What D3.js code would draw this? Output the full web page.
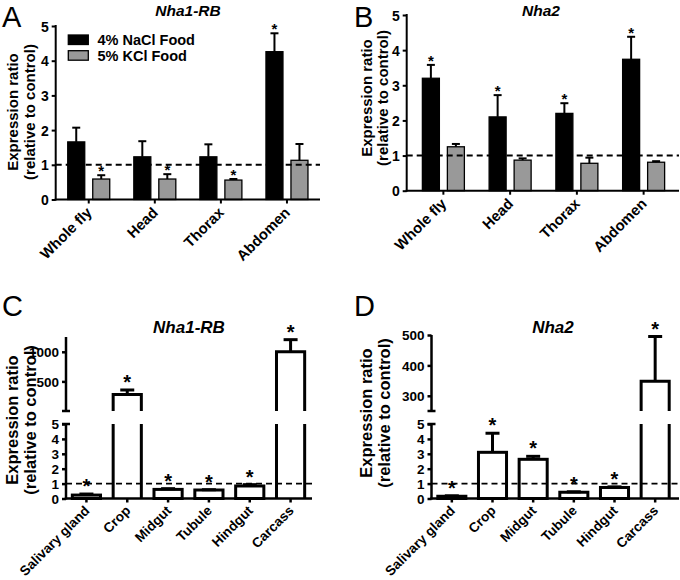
<!DOCTYPE html>
<html><head><meta charset="utf-8">
<script src="https://cdn.jsdelivr.net/npm/d3@7"></script>
<style>
body{margin:0;background:#fff}
svg{display:block}
text{font-family:"Liberation Sans",Arial,sans-serif}
</style>
</head><body><svg id="c" width="680" height="580"></svg>
<script>
// ---------- data ----------
const regions = ["Whole fly","Head","Thorax","Abdomen"];
const diets = ["4% NaCl Food","5% KCl Food"];
const dietFill = ["#000000","#999999"];
const aNaCl = [1.66,1.23,1.23,4.26];
const aNaClSem = [0.41,0.45,0.36,0.53];
const aKCl = [0.59,0.59,0.56,1.13];
const aKClSem = [0.11,0.14,0.03,0.47];
const aNaClSig = [false,false,false,true];
const aKClSig = [true,true,true,false];
const bNaCl = [3.2,2.1,2.2,3.74];
const bNaClSem = [0.38,0.62,0.29,0.64];
const bKCl = [1.25,0.87,0.78,0.81];
const bKClSem = [0.08,0.05,0.16,0.03];
const bNaClSig = [true,true,true,true];
const bKClSig = [false,false,false,false];
const tissues = ["Salivary gland","Crop","Midgut","Tubule","Hindgut","Carcass"];
const cVals = [0.23,280,0.61,0.57,0.84,1000];
const cSem = [0.07,75,0.05,0.02,0.09,205];
const cSig = [true,true,true,true,true,true];
const dVals = [0.15,3.1,2.63,0.42,0.74,348];
const dSem = [0.03,1.28,0.2,0.03,0.04,147];
const dSig = [true,true,true,true,true,true];
const lowTicks = [0,1,2,3,4,5];
const cHighDomain = [0,1250];
const cHighTicks = [500,1000];
const dHighDomain = [250,500];
const dHighTicks = [300,400,500];

const svg = d3.select("#c");

function styleAxis(sel, fs, sw){
  sel.selectAll("path.domain").remove();
  sel.selectAll(".tick line").attr("stroke","#000").attr("stroke-width",sw);
  sel.selectAll(".tick text").attr("fill","#000").style("font-size",fs+"px").style("font-weight","bold");
}

function yLabel(g, cx, cy, fs){
  const t = g.append("g").attr("transform",`translate(${cx},${cy}) rotate(-90)`);
  t.append("text").attr("text-anchor","middle").attr("y",0).style("font-size",fs+"px").style("font-weight","bold").text("Expression ratio");
  t.append("text").attr("text-anchor","middle").attr("y",fs*1.12).style("font-size",fs+"px").style("font-weight","bold").text("(relative to control)");
}

// ---------- grouped panels (A, B) ----------
function grouped(o){
  const g = svg.append("g");
  const x = d3.scaleBand().domain(regions).range([o.x0, o.x1]);
  const bw = x.bandwidth();
  const xi = d3.scaleBand().domain(diets).range([bw/2-21, bw/2+21]).paddingInner(0.32);
  const y = d3.scaleLinear().domain([0,5]).range([o.yb, o.yt]);
  const series = [o.s1, o.s2];
  const sems = [o.e1, o.e2];
  const sigs = [o.g1, o.g2];

  diets.forEach((dname, si) => {
    regions.forEach((r, j) => {
      const v = series[si][j];
      g.append("rect")
        .attr("x", x(r)+xi(dname)).attr("width", xi.bandwidth())
        .attr("y", y(v)).attr("height", y(0)-y(v))
        .attr("fill", dietFill[si]).attr("stroke","#000").attr("stroke-width",1.3);
    });
  });
  diets.forEach((dname, si) => {
    regions.forEach((r, j) => {
      const v = series[si][j], e = sems[si][j];
      const cx = x(r)+xi(dname)+xi.bandwidth()/2;
      g.append("line").attr("x1",cx).attr("x2",cx).attr("y1",y(v)).attr("y2",y(v+e)).attr("stroke","#000").attr("stroke-width",2);
      g.append("line").attr("x1",cx-4).attr("x2",cx+4).attr("y1",y(v+e)).attr("y2",y(v+e)).attr("stroke","#000").attr("stroke-width",2);
      if (sigs[si][j]) g.append("text").attr("x",cx).attr("y",y(v+e)+1).attr("text-anchor","middle")
        .style("font-size","15px").style("font-weight","bold").text("*");
    });
  });
  g.append("line").attr("x1",o.ax).attr("x2",o.xEnd).attr("y1",y(1)).attr("y2",y(1))
    .attr("stroke","#000").attr("stroke-width",2).attr("stroke-dasharray","6,4");
  const ya = g.append("g").attr("transform",`translate(${o.ax},0)`)
    .call(d3.axisLeft(y).tickValues(lowTicks).tickSize(4).tickSizeOuter(0).tickPadding(3).tickFormat(d3.format("d")));
  styleAxis(ya, 14, 2);
  ya.selectAll(".tick text").attr("dy","0.36em");
  g.append("line").attr("x1",o.ax).attr("x2",o.ax).attr("y1",y(5)-1).attr("y2",y(0)+1).attr("stroke","#000").attr("stroke-width",2);
  const xa = g.append("g").attr("transform",`translate(0,${o.yb})`)
    .call(d3.axisBottom(x).tickSize(4).tickSizeOuter(0));
  styleAxis(xa, 14.8, 2);
  xa.selectAll(".tick text").attr("y",null).attr("dy",null).attr("text-anchor","end")
    .attr("transform","translate(4,14) rotate(-45)");
  g.append("line").attr("x1",o.ax-1).attr("x2",o.xEnd).attr("y1",o.yb).attr("y2",o.yb).attr("stroke","#000").attr("stroke-width",2);

  g.append("text").attr("x",o.tx).attr("y",o.ty).attr("text-anchor","middle")
    .style("font-size","15.5px").style("font-weight","bold").style("font-style","italic").text(o.title);
  g.append("text").attr("x",o.lx).attr("y",o.ly).style("font-size","29px").text(o.letter);
  yLabel(g, o.labx, o.laby, 15);
  return {g, x, xi, y};
}

const A = grouped({x0:55.7, x1:320, ax:55.7, xEnd:320, yb:199.5, yt:26,
  s1:aNaCl, s2:aKCl, e1:aNaClSem, e2:aKClSem, g1:aNaClSig, g2:aKClSig,
  title:"Nha1-RB", tx:188, ty:16, letter:"A", lx:2, ly:26.5, labx:18, laby:112});
const B = grouped({x0:410, x1:677, ax:406.7, xEnd:679, yb:190.7, yt:15,
  s1:bNaCl, s2:bKCl, e1:bNaClSem, e2:bKClSem, g1:bNaClSig, g2:bKClSig,
  title:"Nha2", tx:541, ty:16, letter:"B", lx:354, ly:26.5, labx:371.5, laby:98});

diets.forEach((dname, i) => {
  const ly = 35 + i*15.7;
  A.g.append("rect").attr("x",68.3).attr("y",ly).attr("width",20).attr("height",9.5)
    .attr("fill",dietFill[i]).attr("stroke","#000").attr("stroke-width",1.3);
  A.g.append("text").attr("x",97.5).attr("y",ly+10).style("font-size","14.5px").style("font-weight","bold").text(dname);
});

// ---------- broken-axis panels (C, D) ----------
function broken(o){
  const g = svg.append("g");
  const x = d3.scaleBand().domain(tissues).range([o.x0, o.x1]);
  const bw = x.bandwidth()*0.69;
  const yLow = d3.scaleLinear().domain([0,5]).range([498.5, 424]);
  const yHigh = d3.scaleLinear().domain(o.highDomain).range([411, o.highTop]);
  const lowMax = 5;

  tissues.forEach((t, j) => {
    const v = o.vals[j], e = o.sem[j];
    const l = x(t)+x.bandwidth()/2-bw/2, r = l+bw, cx = l+bw/2;
    let ys;
    if (v <= lowMax){
      g.append("rect").attr("x",l).attr("width",bw).attr("y",yLow(v)).attr("height",yLow(0)-yLow(v))
        .attr("fill","#fff").attr("stroke","#000").attr("stroke-width",3);
      ys = yLow;
    } else {
      g.append("path").attr("d",`M${l},${yLow(0)}V${yLow(lowMax)}M${r},${yLow(lowMax)}V${yLow(0)}`)
        .attr("fill","none").attr("stroke","#000").attr("stroke-width",3);
      g.append("path").attr("d",`M${l},${yHigh.range()[0]}V${yHigh(v)}H${r}V${yHigh.range()[0]}`)
        .attr("fill","#fff").attr("stroke","#000").attr("stroke-width",3);
      ys = yHigh;
    }
    const topY = ys(v), errY = ys(v+e);
    g.append("line").attr("x1",cx).attr("x2",cx).attr("y1",topY).attr("y2",errY).attr("stroke","#000").attr("stroke-width",3);
    g.append("line").attr("x1",cx-7).attr("x2",cx+7).attr("y1",errY).attr("y2",errY).attr("stroke","#000").attr("stroke-width",3);
    if (o.sig[j]) g.append("text").attr("x",cx).attr("y",errY-1).attr("text-anchor","middle")
      .style("font-size","20px").style("font-weight","bold").text("*");
  });

  g.append("line").attr("x1",o.ax).attr("x2",o.xEnd).attr("y1",yLow(1)).attr("y2",yLow(1))
    .attr("stroke","#000").attr("stroke-width",1.6).attr("stroke-dasharray","6,4");

  const la = g.append("g").attr("transform",`translate(${o.ax},0)`)
    .call(d3.axisLeft(yLow).tickValues(lowTicks).tickSize(4).tickSizeOuter(0).tickPadding(3).tickFormat(d3.format("d")));
  styleAxis(la, 13.5, 2.5);
  la.selectAll(".tick text").attr("dy","0.36em");
  g.append("line").attr("x1",o.ax).attr("x2",o.ax).attr("y1",yLow(5)).attr("y2",yLow(0)+1).attr("stroke","#000").attr("stroke-width",2.5);
  g.append("line").attr("x1",o.ax-4).attr("x2",o.ax+4).attr("y1",yLow(5)).attr("y2",yLow(5)).attr("stroke","#000").attr("stroke-width",2.5);
  const ua = g.append("g").attr("transform",`translate(${o.ax},0)`)
    .call(d3.axisLeft(yHigh).tickValues(o.highTicks).tickSize(4).tickSizeOuter(0).tickPadding(3).tickFormat(d3.format("d")));
  styleAxis(ua, 13.5, 2.5);
  ua.selectAll(".tick text").attr("dy","0.36em");
  g.append("line").attr("x1",o.ax).attr("x2",o.ax).attr("y1",yHigh.range()[1]).attr("y2",yHigh.range()[0]).attr("stroke","#000").attr("stroke-width",2.5);
  g.append("line").attr("x1",o.ax-4).attr("x2",o.ax+4).attr("y1",yHigh.range()[0]).attr("y2",yHigh.range()[0]).attr("stroke","#000").attr("stroke-width",2.5);

  const xa = g.append("g").attr("transform",`translate(0,${yLow(0)})`)
    .call(d3.axisBottom(x).tickSize(4).tickSizeOuter(0));
  styleAxis(xa, 13.6, 2.5);
  xa.selectAll(".tick text").attr("y",null).attr("dy",null).attr("text-anchor","end")
    .attr("transform","translate(4,13) rotate(-45)");
  g.append("line").attr("x1",o.ax-1.2).attr("x2",o.xEnd).attr("y1",yLow(0)).attr("y2",yLow(0)).attr("stroke","#000").attr("stroke-width",2.5);

  g.append("text").attr("x",o.tx).attr("y",333).attr("text-anchor","middle")
    .style("font-size","17px").style("font-weight","bold").style("font-style","italic").text(o.title);
  g.append("text").attr("x",o.lx).attr("y",316).style("font-size","29px").text(o.letter);
  yLabel(g, o.labx, o.laby, 16.5);
}

broken({x0:66, x1:311, ax:66, xEnd:312, vals:cVals, sem:cSem, sig:cSig,
  highDomain:cHighDomain, highTop:337, highTicks:cHighTicks,
  title:"Nha1-RB", tx:189, letter:"C", lx:2, labx:18, laby:420});
broken({x0:431.5, x1:675.5, ax:431.5, xEnd:679, vals:dVals, sem:dSem, sig:dSig,
  highDomain:dHighDomain, highTop:335, highTicks:dHighTicks,
  title:"Nha2", tx:553, letter:"D", lx:354, labx:372, laby:413});
</script>
</body></html>
